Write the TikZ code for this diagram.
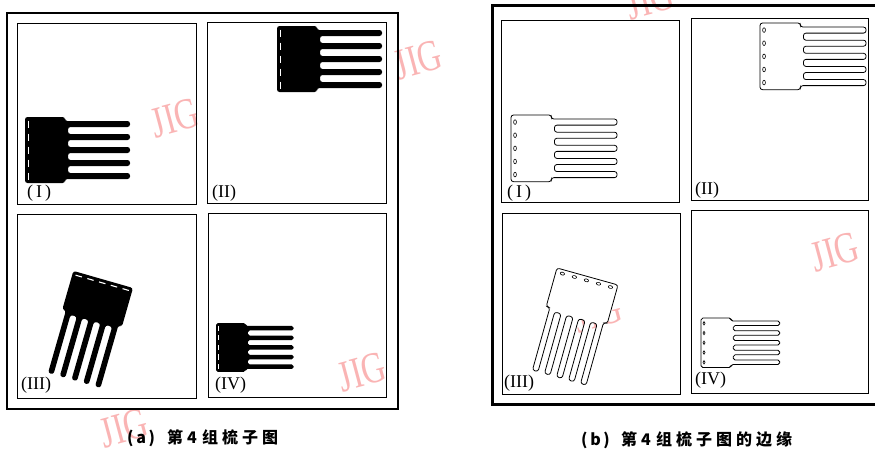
\documentclass[tikz,border=0pt]{standalone}
\usepackage{fontspec}
\setmainfont{Liberation Serif}
\newfontfamily\capfont{Noto Sans CJK SC}
\definecolor{wm}{RGB}{250,180,180}
\newcommand\cc[1]{\makebox[20pt][l]{#1}}
\newcommand\solidcomb[1]{%
 \fill[rounded corners=#1] (0,0) -- (40,0) -- (40,4) -- (105,4) -- (105,10) -- (43,10) -- (43,17) -- (105,17) -- (105,23) -- (43,23) -- (43,30) -- (105,30) -- (105,36) -- (43,36) -- (43,43) -- (105,43) -- (105,49) -- (43,49) -- (43,56) -- (105,56) -- (105,62) -- (40,62) -- (40,66) -- (0,66) -- cycle;
 \foreach \c in {7,20,33,46,59} \draw[white, line width=1.1pt] (3.5,\c-3.5) -- (3.5,\c+3.5);
}
\newcommand\outlinecomb[1]{%
 \filldraw[fill=white, line width=0.8pt, rounded corners=#1] (0,0) -- (40,0) -- (40,4) -- (105,4) -- (105,10) -- (43,10) -- (43,17) -- (105,17) -- (105,23) -- (43,23) -- (43,30) -- (105,30) -- (105,36) -- (43,36) -- (43,43) -- (105,43) -- (105,49) -- (43,49) -- (43,56) -- (105,56) -- (105,62) -- (40,62) -- (40,66) -- (0,66) -- cycle;
 \foreach \c in {7,20,33,46,59} \draw[line width=0.6pt] (4,\c) ellipse [x radius=1.4, y radius=2.3];
}
\tikzset{
 panel/.style={line width=0.9pt},
 lab/.style={anchor=west, inner sep=0pt, font=\fontsize{18}{18}\selectfont},
 wmark/.style={text=wm, inner sep=0pt, font=\fontsize{44}{44}\selectfont, rotate=15, xscale=0.75},
 captext/.style={anchor=west, inner sep=0pt, font=\capfont\bfseries\fontsize{16}{17}\selectfont},
}
\begin{document}
\begin{tikzpicture}[x=1pt,y=-1pt]
\useasboundingbox (0,0) rectangle (875,451);
\clip (0,0) rectangle (875,451);
\fill[white] (0,0) rectangle (875,451);
% watermarks
\node[wmark] (w1) at (175,118) {JIG};
\node[wmark] (w2) at (418,60) {JIG};
\node[wmark] (w3) at (362,372) {JIG};
\node[wmark] (w4) at (124,428) {JIG};
\node[wmark] (w5) at (650,0) {JIG};
\node[wmark] (w6) at (598,313) {JIG};
\node[wmark] (w7) at (835,252) {JIG};
% ---------- (a) ----------
\draw[line width=2.6pt] (7,13) rectangle (398,409);
\draw[panel] (17,23) rectangle (196,204);
\draw[panel] (207,22) rectangle (386,203);
\draw[panel] (17,214) rectangle (196,398);
\draw[panel] (208,213) rectangle (386,397);
\begin{scope}[shift={(25,117)}] \solidcomb{2.5pt} \end{scope}
\begin{scope}[shift={(277,26)}] \solidcomb{2.5pt} \end{scope}
\begin{scope}[shift={(133,288)}, rotate=-106, yscale=0.94] \solidcomb{2.5pt} \end{scope}
\begin{scope}[shift={(216,323)}, scale=0.74] \solidcomb{1.8pt} \end{scope}
\node[lab] (la1) at (27,193) {(\,I\,)};
\node[lab] (la2) at (212,193) {(II)};
\node[lab] (la3) at (21,385) {(III)};
\node[lab] (la4) at (215,385) {(IV)};
\node[captext] (capa) at (127,438) {\makebox[40pt][l]{(\,a\,)}\cc{第}\makebox[15pt][l]{4}\cc{组}\cc{梳}\cc{子}图};
% ---------- (b) ----------
\draw[line width=3pt] (492,5) rectangle (885,404);
\draw[panel] (501,20) rectangle (679,202);
\draw[panel] (691,18) rectangle (868,200);
\draw[panel] (502,213) rectangle (680,394);
\draw[panel] (691,210) rectangle (868,393);
\begin{scope}[shift={(511,115)}, scale=1.01] \outlinecomb{2.5pt} \end{scope}
\begin{scope}[shift={(760,23)}, scale=1.01] \outlinecomb{2.5pt} \end{scope}
\begin{scope}[shift={(618,285)}, rotate=-105.6, yscale=0.96] \outlinecomb{2.5pt} \end{scope}
\begin{scope}[shift={(701,318)}, scale=0.75] \outlinecomb{1.8pt} \end{scope}
\node[lab] (lb1) at (507,193) {(\,I\,)};
\node[lab] (lb2) at (695,190) {(II)};
\node[lab] (lb3) at (504,383) {(III)};
\node[lab] (lb4) at (695,380) {(IV)};
\node[captext] (capb) at (581,440) {\makebox[40pt][l]{(\,b\,)}\cc{第}\makebox[15pt][l]{4}\cc{组}\cc{梳}\cc{子}\cc{图}\cc{的}\cc{边}缘};
\end{tikzpicture}
\end{document}
